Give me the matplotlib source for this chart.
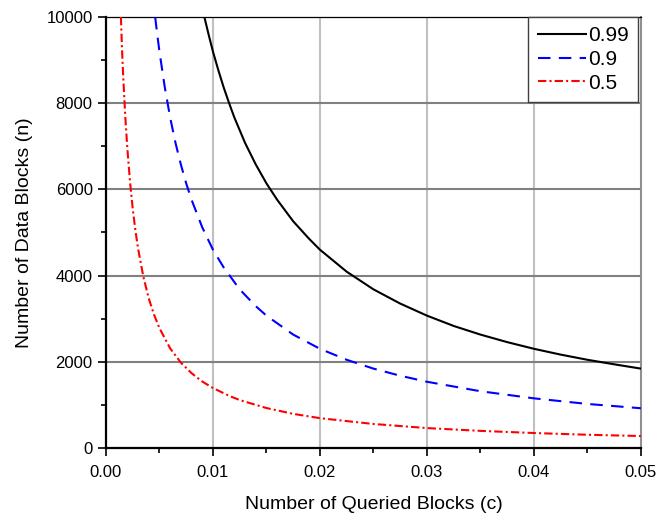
import matplotlib
matplotlib.use("Agg")
import matplotlib.pyplot as plt
from matplotlib.ticker import MultipleLocator

plt.rcParams["font.family"] = ["Liberation Sans", "DejaVu Sans"]

# values
c_99 = [0.0092, 0.0096, 0.01, 0.0105, 0.011, 0.0115, 0.012, 0.013, 0.014, 0.015,
        0.016, 0.0175, 0.019, 0.02, 0.0225, 0.025, 0.0275, 0.03, 0.0325, 0.035,
        0.0375, 0.04, 0.0425, 0.045, 0.0475, 0.05]
n_99 = [10000, 9590, 9200, 8770, 8370, 8010, 7670, 7080, 6580, 6140,
        5760, 5260, 4850, 4600, 4090, 3680, 3350, 3070, 2830, 2630,
        2455, 2300, 2165, 2045, 1940, 1840]

c_90 = [0.0046, 0.0048, 0.005, 0.0055, 0.006, 0.0065, 0.007, 0.0075, 0.008, 0.009,
        0.01, 0.011, 0.0125, 0.014, 0.015, 0.0175, 0.02, 0.0225, 0.025, 0.0275,
        0.03, 0.035, 0.04, 0.045, 0.05]
n_90 = [10000, 9590, 9200, 8370, 7670, 7080, 6580, 6140, 5760, 5120,
        4600, 4190, 3680, 3290, 3070, 2630, 2300, 2045, 1840, 1675,
        1535, 1315, 1150, 1020, 920]

c_50 = [0.0014, 0.0015, 0.0016, 0.0018, 0.002, 0.00225, 0.0025, 0.00275, 0.003, 0.0035,
        0.004, 0.0045, 0.005, 0.006, 0.007, 0.008, 0.009, 0.01, 0.0115, 0.0125,
        0.015, 0.0175, 0.02, 0.025, 0.03, 0.035, 0.04, 0.045, 0.05]
n_50 = [10000, 9270, 8690, 7720, 6950, 6180, 5560, 5055, 4630, 3970,
        3470, 3090, 2780, 2310, 1980, 1735, 1540, 1390, 1210, 1110,
        925, 790, 690, 555, 460, 395, 345, 305, 275]

fig = plt.figure(figsize=(6.58, 5.16), dpi=100)
ax = fig.add_axes([0.161, 0.132, 0.813, 0.835])

ax.plot(c_99, n_99, color="black", lw=1.5, label="0.99", zorder=5)
ax.plot(c_90, n_90, color="blue", lw=1.5, dashes=(6, 4), label="0.9", zorder=5)
ax.plot(c_50, n_50, color="red", lw=1.5, dashes=(4, 1.5, 1, 1.5), label="0.5", zorder=5)

ax.set_xlim(0, 0.05)
ax.set_ylim(0, 10000)

# grid: vertical light gray, horizontal darker gray on top
for x in [0.01, 0.02, 0.03, 0.04]:
    ax.axvline(x, color="#c0c0c0", lw=1.5, zorder=1)
for y in [2000, 4000, 6000, 8000]:
    ax.axhline(y, color="#808080", lw=1.5, zorder=2)

ax.xaxis.set_major_locator(MultipleLocator(0.01))
ax.xaxis.set_minor_locator(MultipleLocator(0.005))
ax.yaxis.set_major_locator(MultipleLocator(2000))
ax.yaxis.set_minor_locator(MultipleLocator(1000))
ax.xaxis.set_major_formatter(plt.FormatStrFormatter("%.2f"))

ax.tick_params(which="major", direction="out", length=6, width=1.2, labelsize=12,
               top=False, right=False)
ax.tick_params(axis="x", which="major", pad=6)
ax.tick_params(which="minor", direction="out", length=3.5, width=1.2,
               top=False, right=False)

ax.spines["left"].set_linewidth(1.6)
ax.spines["bottom"].set_linewidth(1.6)
ax.spines["top"].set_linewidth(0.9)
ax.spines["right"].set_color("#909090")
ax.spines["right"].set_linewidth(1.5)

ax.set_xlabel("Number of Queried Blocks (c)", fontsize=14, labelpad=12)
ax.set_ylabel("Number of Data Blocks (n)", fontsize=14, labelpad=10)

leg = ax.legend(loc="upper right", bbox_to_anchor=(0.9944, 1.0), fontsize=15,
                fancybox=False, framealpha=1, handlelength=2.3, handletextpad=0.1,
                borderpad=0.45, labelspacing=0.22, borderaxespad=0)
leg.get_frame().set_edgecolor("#404040")
leg.get_frame().set_linewidth(1.0)
leg.set_zorder(10)

fig.savefig("out.png", dpi=100)
plt.close(fig)
